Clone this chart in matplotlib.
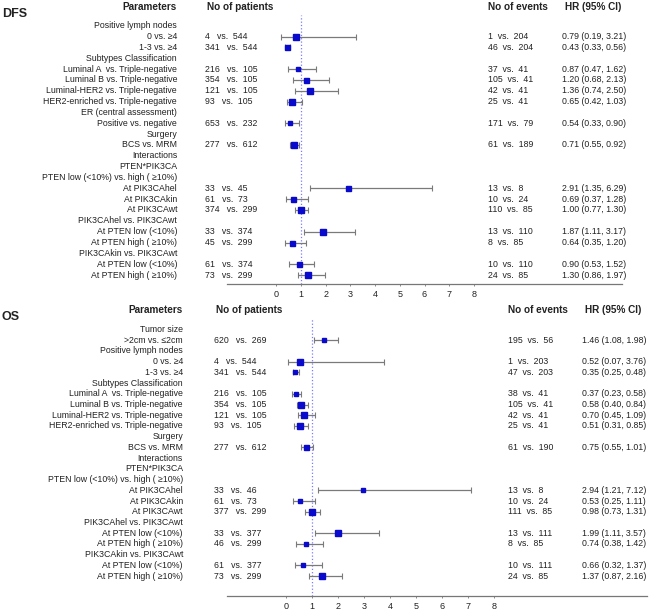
import numpy as np
import matplotlib
matplotlib.use("Agg")
import matplotlib.pyplot as plt
from matplotlib.transforms import blended_transform_factory

plt.rcParams['font.family'] = ['Liberation Sans', 'DejaVu Sans']

# ---- DFS data ----
dfs_labels = ["Positive lymph nodes", "0 vs. \u22654", "1-3 vs. \u22654",
              "Subtypes Classification",
              "Luminal A  vs. Triple-negative", "Luminal B vs. Triple-negative",
              "Luminal-HER2 vs. Triple-negative", "HER2-enriched vs. Triple-negative",
              "ER (central assessment)", "Positive vs. negative",
              "Surgery", "BCS vs. MRM",
              "Interactions", "PTEN*PIK3CA", "PTEN low (<10%) vs. high ( \u226510%)",
              "At PIK3CAhel", "At PIK3CAkin", "At PIK3CAwt",
              "PIK3CAhel vs. PIK3CAwt", "At PTEN low (<10%)", "At PTEN high ( \u226510%)",
              "PIK3CAkin vs. PIK3CAwt", "At PTEN low (<10%)", "At PTEN high ( \u226510%)"]
dfs_pat_a = [None, 4, 341, None, 216, 354, 121, 93, None, 653, None, 277,
             None, None, None, 33, 61, 374, None, 33, 45, None, 61, 73]
dfs_pat_b = [None, 544, 544, None, 105, 105, 105, 105, None, 232, None, 612,
             None, None, None, 45, 73, 299, None, 374, 299, None, 374, 299]
dfs_ev_a = [None, 1, 46, None, 37, 105, 42, 25, None, 171, None, 61,
            None, None, None, 13, 10, 110, None, 13, 8, None, 10, 24]
dfs_ev_b = [None, 204, 204, None, 41, 41, 41, 41, None, 79, None, 189,
            None, None, None, 8, 24, 85, None, 110, 85, None, 110, 85]
dfs_hr = [np.nan, 0.79, 0.43, np.nan, 0.87, 1.20, 1.36, 0.65, np.nan, 0.54, np.nan, 0.71,
          np.nan, np.nan, np.nan, 2.91, 0.69, 1.00, np.nan, 1.87, 0.64, np.nan, 0.90, 1.30]
dfs_lo = [np.nan, 0.19, 0.33, np.nan, 0.47, 0.68, 0.74, 0.42, np.nan, 0.33, np.nan, 0.55,
          np.nan, np.nan, np.nan, 1.35, 0.37, 0.77, np.nan, 1.11, 0.35, np.nan, 0.53, 0.86]
dfs_hi = [np.nan, 3.21, 0.56, np.nan, 1.62, 2.13, 2.50, 1.03, np.nan, 0.90, np.nan, 0.92,
          np.nan, np.nan, np.nan, 6.29, 1.28, 1.30, np.nan, 3.17, 1.20, np.nan, 1.52, 1.97]

# ---- OS data ----
os_labels = ["Tumor size", ">2cm vs. \u22642cm",
             "Positive lymph nodes", "0 vs. \u22654", "1-3 vs. \u22654",
             "Subtypes Classification",
             "Luminal A  vs. Triple-negative", "Luminal B vs. Triple-negative",
             "Luminal-HER2 vs. Triple-negative", "HER2-enriched vs. Triple-negative",
             "Surgery", "BCS vs. MRM",
             "Interactions", "PTEN*PIK3CA", "PTEN low (<10%) vs. high ( \u226510%)",
             "At PIK3CAhel", "At PIK3CAkin", "At PIK3CAwt",
             "PIK3CAhel vs. PIK3CAwt", "At PTEN low (<10%)", "At PTEN high ( \u226510%)",
             "PIK3CAkin vs. PIK3CAwt", "At PTEN low (<10%)", "At PTEN high ( \u226510%)"]
os_pat_a = [None, 620, None, 4, 341, None, 216, 354, 121, 93, None, 277,
            None, None, None, 33, 61, 377, None, 33, 46, None, 61, 73]
os_pat_b = [None, 269, None, 544, 544, None, 105, 105, 105, 105, None, 612,
            None, None, None, 46, 73, 299, None, 377, 299, None, 377, 299]
os_ev_a = [None, 195, None, 1, 47, None, 38, 105, 42, 25, None, 61,
           None, None, None, 13, 10, 111, None, 13, 8, None, 10, 24]
os_ev_b = [None, 56, None, 203, 203, None, 41, 41, 41, 41, None, 190,
           None, None, None, 8, 24, 85, None, 111, 85, None, 111, 85]
os_hr = [np.nan, 1.46, np.nan, 0.52, 0.35, np.nan, 0.37, 0.58, 0.70, 0.51, np.nan, 0.75,
         np.nan, np.nan, np.nan, 2.94, 0.53, 0.98, np.nan, 1.99, 0.74, np.nan, 0.66, 1.37]
os_lo = [np.nan, 1.08, np.nan, 0.07, 0.25, np.nan, 0.23, 0.40, 0.45, 0.31, np.nan, 0.55,
         np.nan, np.nan, np.nan, 1.21, 0.25, 0.73, np.nan, 1.11, 0.38, np.nan, 0.32, 0.87]
os_hi = [np.nan, 1.98, np.nan, 3.76, 0.48, np.nan, 0.58, 0.84, 1.09, 0.85, np.nan, 1.01,
         np.nan, np.nan, np.nan, 7.12, 1.11, 1.31, np.nan, 3.57, 1.42, np.nan, 1.37, 2.16]

# marker sizes (points), roughly following the box sizes in the picture
dfs_ms = [0, 4.4, 3.6, 0, 3.2, 3.6, 4.2, 3.8, 0, 3.4, 0, 3.8,
          0, 0, 0, 3.6, 3.6, 4.2, 0, 3.8, 3.6, 0, 3.6, 4.0]
os_ms = [0, 3.2, 0, 4.2, 3.4, 0, 3.2, 3.8, 4.2, 3.8, 0, 3.6,
         0, 0, 0, 3.4, 3.4, 3.8, 0, 4.2, 3.4, 0, 3.4, 4.0]

W, H = 653, 612
fig = plt.figure(figsize=(W / 100, H / 100), dpi=100)

def px(x, y):
    return x / W, 1 - y / H

FS = 6.3
HFS = 7.2
TXT = '#222222'


def panel(name, y_top, y_spine, first_row, step, ax_left, ax_right, xlim, cols,
          labels, pa, pb, ea, eb, hr, lo, hi, ms):
    n = len(labels)
    y0 = (y_spine - first_row) / step
    y1 = (y_top - first_row) / step
    l, b = px(ax_left, y_spine)
    r, t = px(ax_right, y_top)
    ax = fig.add_axes([l, b, r - l, t - b])
    ax.set_xlim(*xlim)
    ax.set_ylim(y0, y1)
    for s in ['top', 'right', 'left']:
        ax.spines[s].set_visible(False)
    ax.spines['bottom'].set_color('#777777')
    ax.spines['bottom'].set_linewidth(0.9)
    ax.set_yticks([])
    ax.set_xticks(range(0, 9))
    ax.tick_params(axis='x', length=1.5, width=0.6, color='#777777', pad=2.5,
                   labelsize=6.5, labelcolor=TXT)
    ax.axvline(1, color='#7b7bff', ls=':', lw=0.9, zorder=1)

    for i in range(n):
        if np.isnan(hr[i]):
            continue
        ax.errorbar(hr[i], i, xerr=[[hr[i] - lo[i]], [hi[i] - hr[i]]], fmt='none',
                    ecolor='#7a7a7a', elinewidth=0.9, capsize=2.2, capthick=0.8, zorder=2)
        ax.plot(hr[i], i, 's', color='#0a0acc', ms=ms[i], mec='#0a0acc', zorder=3)

    tr = blended_transform_factory(fig.transFigure, ax.transData)
    c_par, c_pat, c_ev, c_hr = cols
    for i in range(n):
        ax.text(c_par / W, i, labels[i], transform=tr, ha='right', va='center',
                fontsize=FS, color=TXT)
        if pa[i] is None:
            continue
        ax.text(c_pat / W, i, f"{pa[i]}   vs.  {pb[i]}", transform=tr, ha='left',
                va='center', fontsize=FS, color=TXT)
        ax.text(c_ev / W, i, f"{ea[i]}  vs.  {eb[i]}", transform=tr, ha='left',
                va='center', fontsize=FS, color=TXT)
        ax.text(c_hr / W, i, f"{hr[i]:.2f} ({lo[i]:.2f}, {hi[i]:.2f})", transform=tr,
                ha='left', va='center', fontsize=FS, color=TXT)

    # column headers
    hy = y_top - 8
    fig.text(*px(2, hy + 7), name, fontsize=9, fontweight='bold', va='center', color=TXT)
    fig.text(*px(c_par, hy), "Parameters", fontsize=HFS, fontweight='bold',
             ha='right', va='center', color=TXT)
    fig.text(*px(c_pat + 2, hy), "No of patients", fontsize=HFS, fontweight='bold',
             va='center', color=TXT)
    fig.text(*px(c_ev, hy), "No of events", fontsize=HFS, fontweight='bold',
             va='center', color=TXT)
    fig.text(*px(c_hr + 3, hy), "HR (95% CI)", fontsize=HFS, fontweight='bold',
             va='center', color=TXT)
    return ax


panel("DFS", 15, 284, 25.7, 10.84, 227, 622, (-2.0, 14.0), (177, 205, 488, 562),
      dfs_labels, dfs_pat_a, dfs_pat_b, dfs_ev_a, dfs_ev_b, dfs_hr, dfs_lo, dfs_hi, dfs_ms)
panel("OS", 318, 596, 329.5, 10.72, 227, 647, (-2.28, 13.87), (183, 214, 508, 582),
      os_labels, os_pat_a, os_pat_b, os_ev_a, os_ev_b, os_hr, os_lo, os_hi, os_ms)

fig.savefig("out.png", dpi=100)
